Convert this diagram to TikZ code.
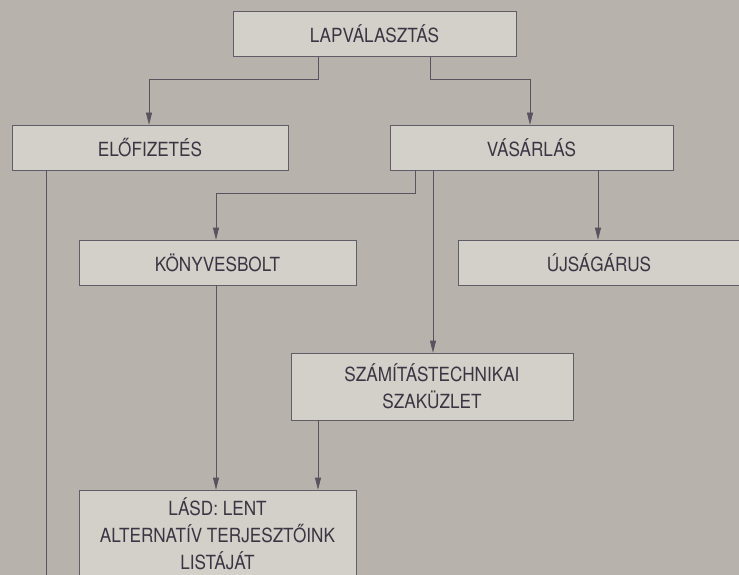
\documentclass[tikz,border=0pt]{standalone}
\usepackage{fontspec}
\setmainfont{TeX Gyre Heros}[FakeStretch=0.88]
\usetikzlibrary{arrows.meta}
\definecolor{papir}{HTML}{B7B2AC}
\definecolor{dobozszin}{HTML}{D3CFC9}
\definecolor{tinta}{HTML}{3A3542}
\begin{document}
\begin{tikzpicture}[x=1pt,y=-1pt,semithick,
  doboz/.style={draw=tinta!80,fill=dobozszin,text=tinta,inner sep=0pt,
    align=center,font=\fontsize{19.5}{27}\selectfont,minimum height=45pt},
  nyil/.style={draw=tinta!85,-{Triangle[length=12pt,width=6pt]}}]
\useasboundingbox(0,0)rectangle(739,575);
\clip(0,0)rectangle(739,575);
\fill[papir](0,0)rectangle(739,575);
% dobozok
\node[doboz,minimum width=283pt](lap) at (374.5,34) {LAPVÁLASZTÁS};
\node[doboz,minimum width=276pt](elo) at (150,147.5) {ELŐFIZETÉS};
\node[doboz,minimum width=283pt](vas) at (531.5,147.5) {VÁSÁRLÁS};
\node[doboz,minimum width=277pt](konyv) at (217.5,262.5) {KÖNYVESBOLT};
\node[doboz,minimum width=282pt](ujs) at (599,262.5) {ÚJSÁGÁRUS};
\node[doboz,minimum width=282pt,minimum height=67pt](szam) at (432,386.5) {SZÁMÍTÁSTECHNIKAI\\SZAKÜZLET};
\node[doboz,minimum width=277pt,minimum height=88pt](lasd) at (217.5,534) {LÁSD: LENT\\ALTERNATÍV TERJESZTŐINK\\LISTÁJÁT};
\coordinate(le) at (46,580);
% nyilak
\draw[nyil](lap.south-|318,0)|-(149,79)--(elo.north-|149,0);
\draw[nyil](lap.south-|430,0)|-(530,79)--(vas.north-|530,0);
\draw[nyil](vas.south-|415,0)|-(216,193)--(konyv.north-|216,0);
\draw[nyil](vas.south-|433,0)--(szam.north-|433,0);
\draw[nyil](vas.south-|598,0)--(ujs.north-|598,0);
\draw[nyil](konyv.south-|216,0)--(lasd.north-|216,0);
\draw[nyil](szam.south-|318,0)--(lasd.north-|318,0);
\draw[draw=tinta!85](elo.south-|le)--(le);
\end{tikzpicture}
\end{document}
